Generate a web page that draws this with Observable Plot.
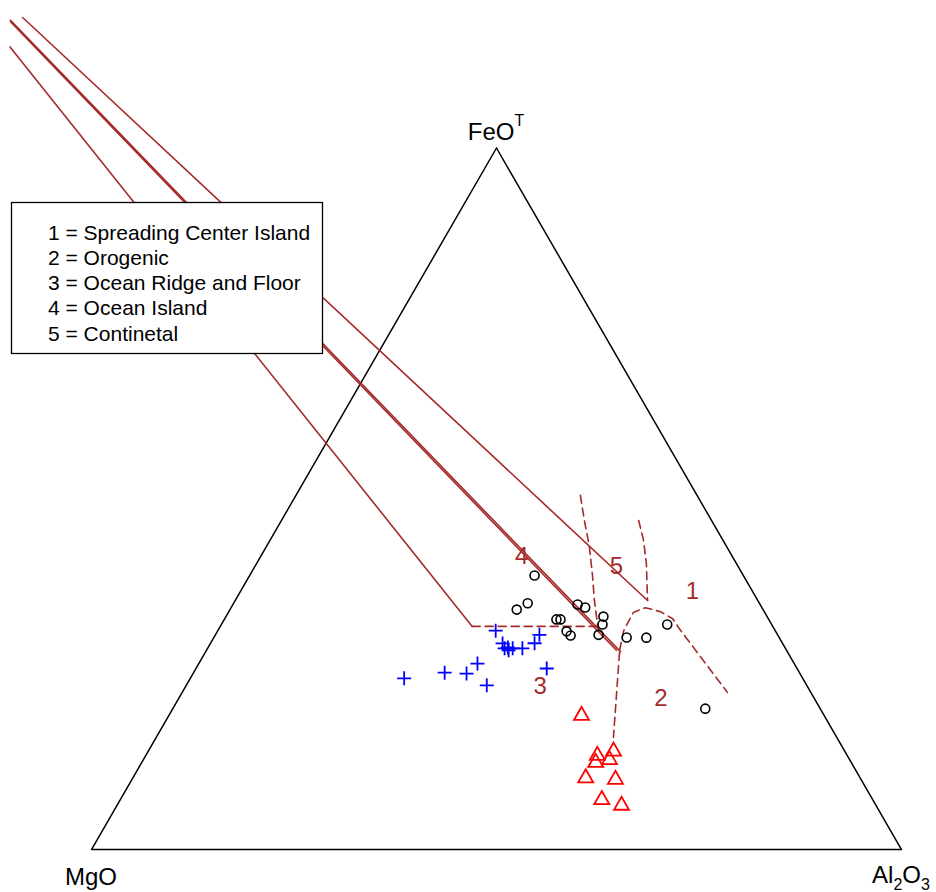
<!DOCTYPE html>
<html><head><meta charset="utf-8">
<script src="https://cdn.jsdelivr.net/npm/d3@7"></script>
<script src="https://cdn.jsdelivr.net/npm/@observablehq/plot@0.6"></script>
<style>
body{margin:0;background:#fff;}
#chart svg{display:block;}
</style>
</head><body><div id="chart"></div>
<script>
// Compositions as [FeOT, MgO, Al2O3] (wt%, normalised)
const circleSamples = [
  [39.1,25.8,35.2],[34.2,30.4,35.4],[35.1,28.6,36.3],[32.8,26.2,41.0],
  [32.8,25.7,41.5],[31.1,25.8,43.1],[30.5,25.6,43.9],[34.9,22.5,42.5],
  [34.5,21.8,43.7],[33.2,20.2,46.6],[32.1,20.9,47.1],[30.6,22.1,47.3],
  [30.2,18.8,50.9],[30.2,16.4,53.4],[32.1,12.9,55.1],[20.1,14.2,65.8]
];
const plusSamples = [
  [24.4,49.2,26.4],[25.2,43.8,31.0],[25.1,41.2,33.8],[26.5,39.1,34.4],
  [23.4,39.5,37.1],[31.2,34.5,34.3],[29.4,34.6,36.1],[28.8,34.2,37.0],
  [28.4,34.3,37.3],[28.7,33.7,37.7],[28.7,32.5,38.9],[29.4,30.6,40.0],
  [30.6,29.4,40.0],[25.8,30.9,43.3],[28.7,34.7,36.7]
];
const triangleSamples = [
  [19.4,29.8,50.8],[13.7,30.7,55.6],[14.3,28.4,57.3],[12.7,31.4,55.9],
  [13.1,29.5,57.4],[10.5,33.7,55.7],[10.3,30.2,59.6],[7.4,33.3,59.3],
  [6.6,31.3,62.2]
];
// Field boundaries (Pearce et al. 1977)
const solidBoundaries = [
  [[118.6,49.2,-67.8],[35.5,13.6,50.9]],
  [[118.2,50.9,-69.1],[28.2,20.6,51.2]],
  [[118.0,51.0,-69.0],[28.4,21.0,50.6]],
  [[114.3,52.8,-67.2],[31.8,37.1,31.1]]
];
const dashedBoundaries = [
  [[31.8,37.1,31.1],[31.8,21.6,46.6]],
  [[50.5,14.4,35.1],[46.9,15.7,37.4],[43.3,16.9,39.8],[39.1,18.6,42.3],[35.5,20.2,44.4],[31.8,21.6,46.6]],
  [[46.9,9.0,44.1],[44.1,9.8,46.1],[40.8,11.1,48.1],[35.5,13.6,50.9]],
  [[28.4,20.6,51.0],[31.2,18.7,50.1],[33.8,16.2,50.0],[34.5,14.4,51.2],[33.9,12.8,53.3],[32.9,11.8,55.3],[31.6,11.7,56.6],[22.4,10.3,67.3]],
  [[28.1,20.8,51.2],[16.0,27.6,56.5]]
];
const fieldNames = ["1","2","3","4","5"];
const fieldPositions = [[36.8,7.4,55.8],[21.7,19.1,60.0],[23.2,33.0,43.8],[41.8,26.0,32.2],[40.3,15.0,44.6]];
const legendLines = [
  "1 = Spreading Center Island",
  "2 = Orogenic",
  "3 = Ocean Ridge and Floor",
  "4 = Ocean Island",
  "5 = Continetal"
];
const apexes = [[100,0,0],[0,100,0],[0,0,100]]; // FeOT, MgO, Al2O3

const SQ3 = Math.sqrt(3)/2;
function tern(c){ const s=c[0]+c[1]+c[2]; const f=c[0]/s, a=c[2]/s; return {x:a+f/2, y:f*SQ3}; }

const BROWN = "#A52A2A";
const FONT = "'Liberation Sans', Arial, Helvetica, sans-serif";

const plusSymbol = { draw(ctx,size){ const r=Math.sqrt(size/Math.PI); ctx.moveTo(-r,0); ctx.lineTo(r,0); ctx.moveTo(0,-r); ctx.lineTo(0,r); } };
const triSymbol = { draw(ctx,size){ const r=Math.sqrt(size/Math.PI); const h=r*0.87; ctx.moveTo(0,-h); ctx.lineTo(r,h); ctx.lineTo(-r,h); ctx.closePath(); } };

const frame = [...apexes, apexes[0]].map(tern);
const solidData = solidBoundaries.flatMap((l,i)=>l.map(p=>({...tern(p), id:i})));
const dashedData = dashedBoundaries.flatMap((l,i)=>l.map(p=>({...tern(p), id:i})));
const labelData = fieldNames.map((n,i)=>({...tern(fieldPositions[i]), t:n}));

const svg = Plot.plot({
  width: 936, height: 892,
  style: {fontFamily: FONT, background: "#fff"},
  x: {domain:[0,1], range:[91,901], axis:null},
  y: {domain:[0,SQ3], range:[849,147.5], axis:null},
  marks: [
    Plot.line(frame, {x:"x", y:"y", stroke:"black", strokeWidth:1.5}),
    Plot.line(solidData, {x:"x", y:"y", z:"id", stroke:BROWN, strokeWidth:1.6}),
    Plot.line(dashedData, {x:"x", y:"y", z:"id", stroke:BROWN, strokeWidth:1.6, strokeDasharray:"8,5"}),
    Plot.text(labelData, {x:"x", y:"y", text:"t", fill:BROWN, fontSize:24}),
    Plot.dot(circleSamples.map(tern), {x:"x", y:"y", r:4.5, stroke:"black", fill:"none", strokeWidth:1.6}),
    Plot.dot(plusSamples.map(tern), {x:"x", y:"y", r:7, symbol:plusSymbol, stroke:"#0000FF", fill:"none", strokeWidth:1.8}),
    Plot.dot(triangleSamples.map(tern), {x:"x", y:"y", r:7.5, symbol:triSymbol, stroke:"#FF0000", fill:"none", strokeWidth:1.8})
  ]
});

const sx = svg.scale("x"), sy = svg.scale("y");
const g = d3.select(svg).append("g").attr("font-family", FONT).attr("fill","black");

// apex labels
const pF = tern(apexes[0]), pM = tern(apexes[1]), pA = tern(apexes[2]);
const tF = g.append("text").attr("x", sx.apply(pF.x)).attr("y", sy.apply(pF.y) - 8).attr("text-anchor","middle").attr("font-size",24);
tF.append("tspan").text("FeO");
tF.append("tspan").attr("dy",-14).attr("font-size",16).text("T");
g.append("text").attr("x", sx.apply(pM.x)).attr("y", sy.apply(pM.y) + 36).attr("text-anchor","middle").attr("font-size",24).text("MgO");
const tA = g.append("text").attr("x", sx.apply(pA.x)).attr("y", sy.apply(pA.y) + 34).attr("text-anchor","middle").attr("font-size",24);
tA.append("tspan").text("Al");
tA.append("tspan").attr("dy",7).attr("font-size",16).text("2");
tA.append("tspan").attr("dy",-7).text("O");
tA.append("tspan").attr("dy",7).attr("font-size",16).text("3");

// legend box
const lg = g.append("g").attr("text-anchor","start");
lg.append("rect").attr("x",11.5).attr("y",202.5).attr("width",311).attr("height",151).attr("fill","white").attr("stroke","black").attr("stroke-width",1.3);
legendLines.forEach((s,i)=>{
  lg.append("text").attr("x",48).attr("y",239.5 + i*25.3).attr("text-anchor","start").attr("font-size",21).text(s);
});

document.getElementById("chart").appendChild(svg);
</script>
</body></html>
